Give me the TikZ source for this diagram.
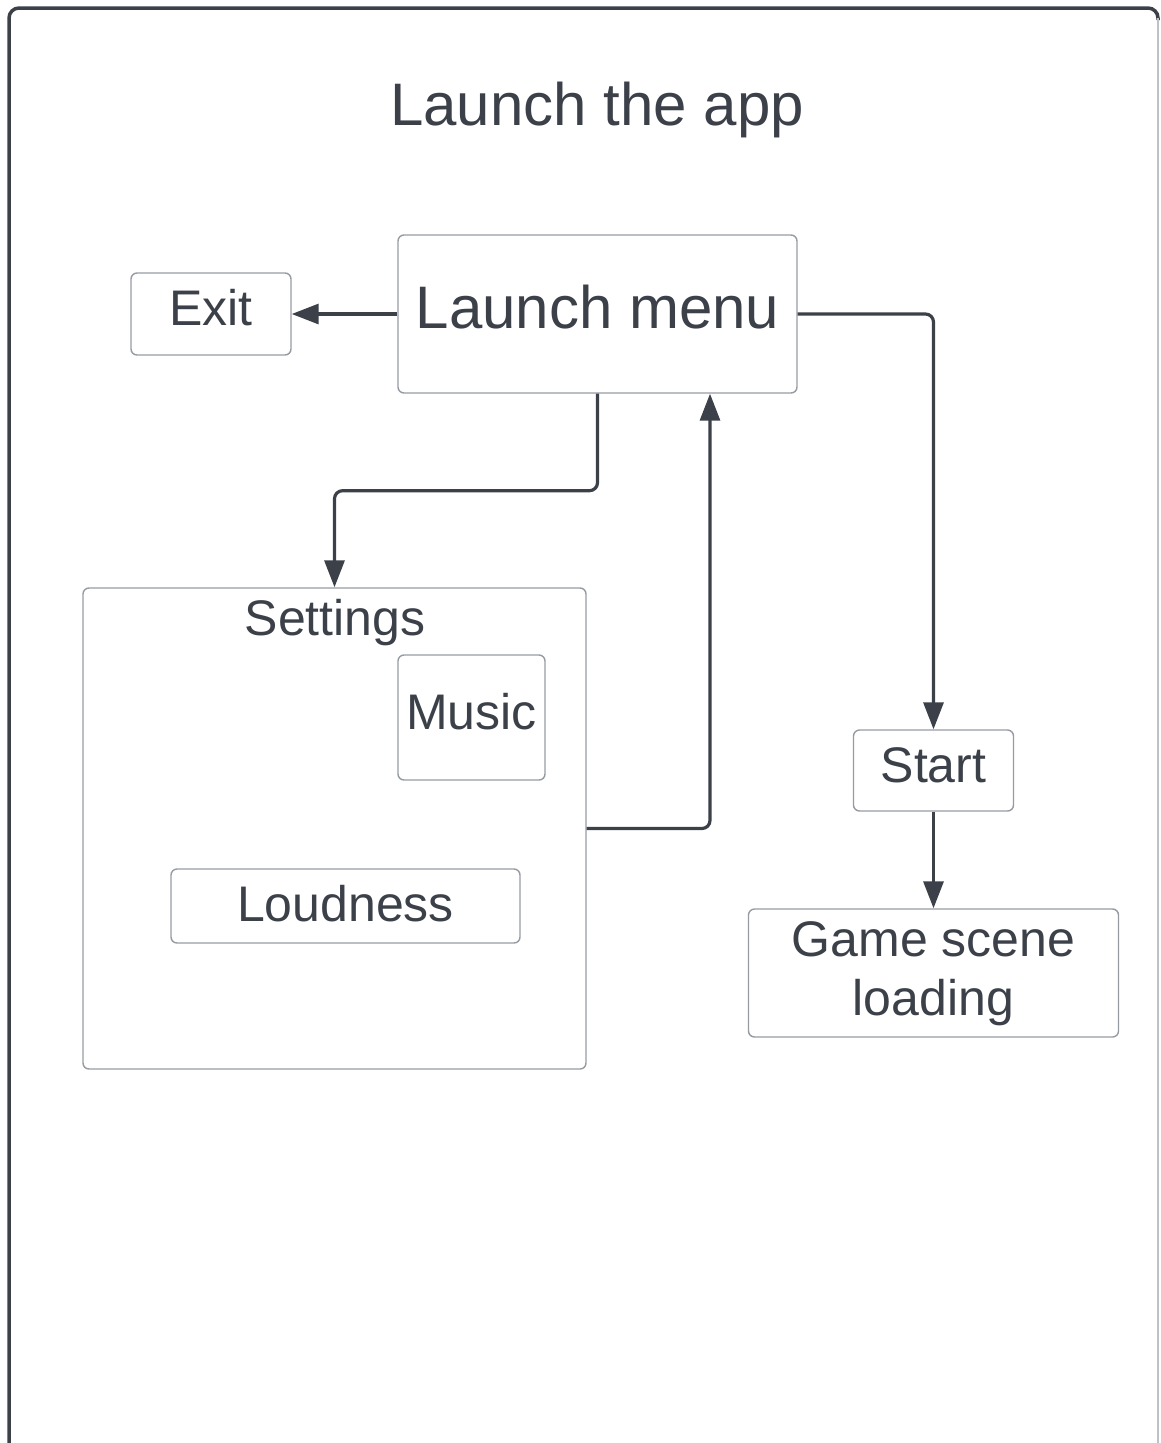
\documentclass[tikz,border=0pt]{standalone}
\usepackage{fontspec}
\setmainfont{Liberation Sans}
\usetikzlibrary{arrows.meta}
\definecolor{ink}{RGB}{59,64,73}
\definecolor{boxgray}{RGB}{150,155,162}
\definecolor{framegray}{RGB}{190,194,198}
\tikzset{
  box/.style={draw=boxgray, line width=1.4pt, rounded corners=6pt, inner sep=0pt,
    text=ink, font=\fontsize{50}{59}\selectfont, text height=23pt, text depth=0pt},
  bigbox/.style={box, font=\fontsize{60}{70}\selectfont, text height=28pt},
  conn/.style={draw=ink, line width=3.2pt, rounded corners=8pt,
    -{Triangle[length=27pt,width=20pt]}},
}
\begin{document}
\begin{tikzpicture}[x=1pt,y=-1pt]
\useasboundingbox (0,0) rectangle (1161,1443);
% outer frame
\draw[ink, line width=3.5pt, rounded corners=10pt] (9,1443) -- (9,8) -- (1158,8) -- (1158,20);
\draw[framegray, line width=1.5pt] (1158,18) -- (1158,1443);
% title
\node[anchor=base, text=ink, font=\fontsize{60}{70}\selectfont, inner sep=0pt] (title) at (597,125) {Launch the app};
% boxes
\node[bigbox, minimum width=399pt, minimum height=158pt] (lm) at (597.5,314) {Launch menu};
\node[box, minimum width=160pt, minimum height=82pt] (exit) at (211,314) {Exit};
\node[draw=boxgray, line width=1.4pt, rounded corners=6pt, minimum width=503pt, minimum height=481pt] (settings) at (334.5,828.5) {};
\node[anchor=base, text=ink, font=\fontsize{50}{59}\selectfont, inner sep=0pt] (setlabel) at (335,635) {Settings};
\node[box, minimum width=147pt, minimum height=125pt] (music) at (471.5,717.5) {Music};
\node[box, text height=30pt, minimum width=349pt, minimum height=74pt] (loud) at (345.5,906) {Loudness};
\node[box, minimum width=160pt, minimum height=81pt] (start) at (933.5,770.5) {Start};
\node[box, align=center, text height=85pt, minimum width=370pt, minimum height=128pt] (game) at (933.5,973) {Game scene\\loading};
% connectors
\draw[conn] (lm.west) -- (exit.east);
\draw[conn] (lm.south) -- ++(0,97) -| (settings.north);
\draw[conn] (settings.east) -| ([xshift=112.5pt]lm.south);
\draw[conn] (lm.east) -| (start.north);
\draw[conn] (start.south) -- (game.north);
\end{tikzpicture}
\end{document}
